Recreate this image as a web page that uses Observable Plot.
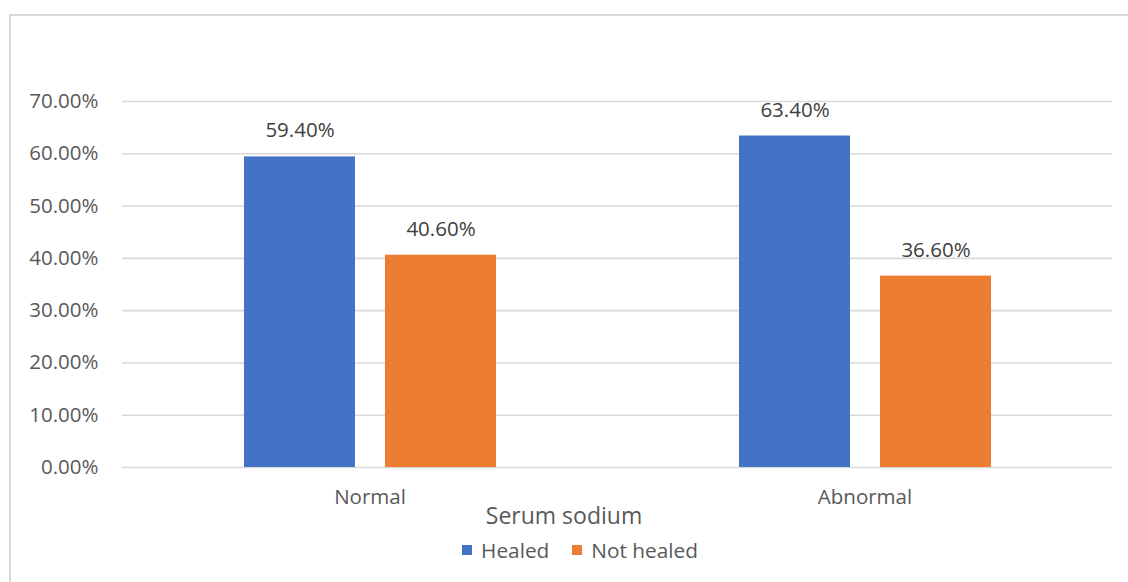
<!DOCTYPE html>
<html>
<head>
<meta charset="utf-8">
<script src="https://cdn.jsdelivr.net/npm/d3@7"></script>
<script src="https://cdn.jsdelivr.net/npm/@observablehq/plot@0.6"></script>
<style>
  html, body { margin: 0; padding: 0; background: #fff; }
  #wrap { position: relative; width: 1128px; height: 582px; overflow: hidden; font-family: "Open Sans", sans-serif; }
  #frame { position: absolute; left: 9px; top: 14px; width: 1200px; height: 700px; border-left: 2px solid #d9d9d9; border-top: 2px solid #d9d9d9; }
  #chart { position: absolute; left: 0; top: 0; }
  #title { position: absolute; left: 0; top: 499px; width: 1128px; text-align: center; font-size: 23px; color: #595959; }
  #legend { position: absolute; left: 16px; top: 536px; width: 1128px; display: flex; justify-content: center; align-items: center; gap: 23px; font-size: 20.8px; color: #595959; }
  #legend span.item { display: inline-flex; align-items: center; gap: 9px; }
  #legend span.sw { display: inline-block; width: 10px; height: 10px; }
</style>
</head>
<body>
<div id="wrap">
  <div id="frame"></div>
  <div id="chart"></div>
  <div id="title"></div>
  <div id="legend"></div>
</div>
<script>
// Serum sodium groups and healing outcome shares (%)
const groups = ["Normal", "Abnormal"];
const series = ["Healed", "Not healed"];
const healed = [59.4, 63.4];
const notHealed = [40.6, 36.6];
const colors = ["#4472C4", "#ED7D31"];
const yTicks = [0, 10, 20, 30, 40, 50, 60, 70];
const axisTitle = "Serum sodium";

const rows = groups.flatMap((g, i) => [
  {group: g, series: series[0], value: healed[i]},
  {group: g, series: series[1], value: notHealed[i]}
]);

const fmt = d => d.toFixed(2) + "%";

const chart = Plot.plot({
  width: 1128,
  height: 510,
  marginLeft: 122,
  marginRight: 16,
  marginTop: 101,
  marginBottom: 43,
  style: {fontFamily: "Open Sans, sans-serif", background: "transparent", overflow: "visible"},
  fx: {domain: groups, padding: 0},
  x: {domain: series, paddingInner: 0.2128, paddingOuter: 0.8617},
  y: {domain: [0, 70]},
  color: {domain: series, range: colors},
  marks: [
    Plot.ruleY(yTicks, {stroke: "#d9d9d9", strokeWidth: 1.6}),
    Plot.barY(rows, {fx: "group", x: "series", y: "value", fill: "series"}),
    Plot.text(rows, {
      fx: "group", x: "series", y: "value",
      text: d => fmt(d.value),
      dy: -26, lineAnchor: "middle",
      fill: "#404040", fontSize: 20.5
    }),
    Plot.axisY(yTicks, {
      tickSize: 0, tickPadding: 24, tickFormat: fmt,
      fontSize: 20.5, fill: "#595959", label: null
    }),
    Plot.axisFx({
      anchor: "bottom",
      tickSize: 0, tickPadding: 22,
      fontSize: 20.5, fill: "#595959", label: null
    }),
    Plot.axisX({ticks: [], label: null})
  ]
});
document.getElementById("chart").append(chart);

document.getElementById("title").textContent = axisTitle;

const legend = document.getElementById("legend");
series.forEach((s, i) => {
  const item = document.createElement("span");
  item.className = "item";
  const sw = document.createElement("span");
  sw.className = "sw";
  sw.style.background = colors[i];
  const label = document.createElement("span");
  label.textContent = s;
  item.append(sw, label);
  legend.append(item);
});
</script>
</body>
</html>
